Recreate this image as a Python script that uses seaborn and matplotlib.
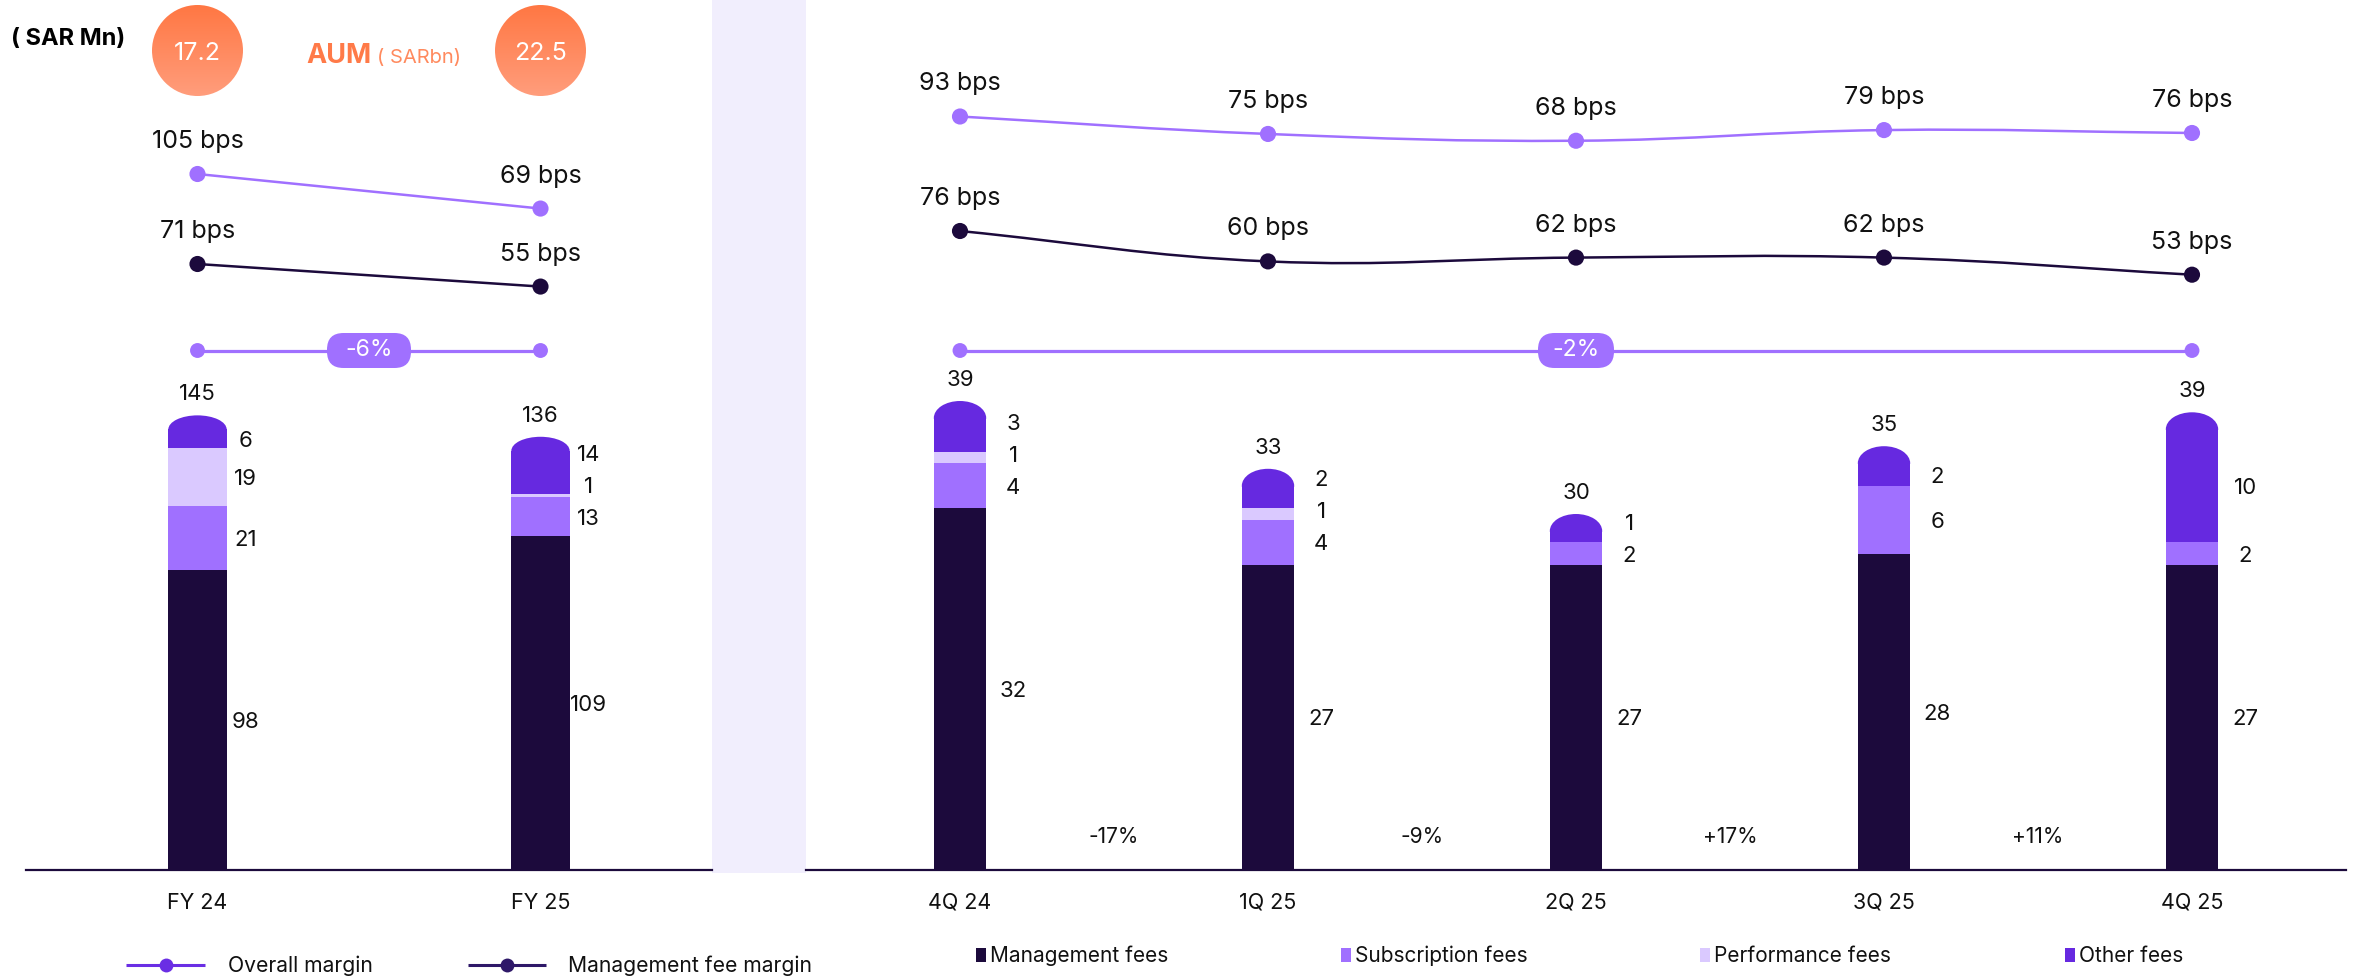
import numpy as np
import pandas as pd
import matplotlib
matplotlib.use("Agg")
import matplotlib.pyplot as plt
import seaborn as sns
from matplotlib import patches, transforms
from matplotlib.path import Path
from matplotlib.colors import LinearSegmentedColormap
from matplotlib import font_manager as fm
from matplotlib.ft2font import FT2Font

# ---------------- data ----------------
annual_periods = ["FY 24", "FY 25"]
annual_mgmt_fees = [98, 109]
annual_sub_fees = [21, 13]
annual_perf_fees = [19, 1]
annual_other_fees = [6, 14]
annual_totals = [145, 136]
annual_overall_bps = [105, 69]
annual_mgmt_bps = [71, 55]
annual_aum_bn = [17.2, 22.5]
annual_margin_change = "-6%"

quarter_periods = ["4Q 24", "1Q 25", "2Q 25", "3Q 25", "4Q 25"]
quarter_mgmt_fees = [32, 27, 27, 28, 27]
quarter_sub_fees = [4, 4, 2, 6, 2]
quarter_perf_fees = [1, 1, 0, 0, 0]
quarter_other_fees = [3, 2, 1, 2, 10]
quarter_totals = [39, 33, 30, 35, 39]
quarter_overall_bps = [93, 75, 68, 79, 76]
quarter_mgmt_bps = [76, 60, 62, 62, 53]
quarter_margin_change = "-2%"
quarter_qoq_changes = ["-17%", "-9%", "+17%", "+11%"]

fee_types = ["Management fees", "Subscription fees", "Performance fees", "Other fees"]
margin_series = ["Overall margin", "Management fee margin"]

# ---------------- style ----------------
C_MGMT = "#1C0A3C"
C_SUB = "#A070FF"
C_PERF = "#DAC9FF"
C_OTHER = "#6629E0"
C_BAND = "#F1EEFD"
C_ORANGE = "#FF7A48"
C_TXT = "#111111"
FEE_COLORS = [C_MGMT, C_SUB, C_PERF, C_OTHER]

W, H, DPI = 2356, 977, 100
BAR_W = 0.17
BASE_Y = 870

sns.set_theme(style="white")
plt.rcParams["font.family"] = ["Inter", "DejaVu Sans"]


def pick_currency():
    fams = ["Inter", "DejaVu Sans", "Noto Sans", "Liberation Sans", "Roboto", "Open Sans", "Lato"]
    for ch in ["\u20C1", "\uFDFC"]:
        for fam in fams:
            try:
                path = fm.findfont(fm.FontProperties(family=fam), fallback_to_default=False)
                if FT2Font(path).get_char_index(ord(ch)):
                    return ch, fam
            except Exception:
                pass
    return "SAR", "Inter"


CUR, CUR_FAM = pick_currency()

fig = plt.figure(figsize=(W / DPI, H / DPI), dpi=DPI)
fig.patch.set_facecolor("white")


def pxax(x0, y0, x1, y1, z=1):
    ax = fig.add_axes([x0 / W, 1 - y1 / H, (x1 - x0) / W, (y1 - y0) / H])
    ax.set_zorder(z)
    ax.patch.set_visible(False)
    return ax


# shaded separator band
fig.add_artist(patches.Rectangle((712 / W, 1 - 873 / H), (806 - 712) / W, 873 / H,
                                 transform=fig.transFigure, color=C_BAND, lw=0, zorder=0))


def smooth_path(ax, xs, ys, tension=0.4):
    pts = ax.transData.transform(np.column_stack([xs, ys]).astype(float))
    n = len(pts)
    cps = []
    for i in range(n):
        p1 = pts[i]
        p0 = pts[i - 1] if i > 0 else pts[i]
        p2 = pts[i + 1] if i < n - 1 else pts[i]
        d01 = np.hypot(*(p1 - p0))
        d12 = np.hypot(*(p2 - p1))
        tot = d01 + d12
        s01 = d01 / tot if tot else 0
        s12 = d12 / tot if tot else 0
        cps.append((p1 - tension * s01 * (p2 - p0), p1 + tension * s12 * (p2 - p0)))
    verts = [pts[0]]
    codes = [Path.MOVETO]
    for i in range(n - 1):
        verts += [cps[i][1], cps[i + 1][0], pts[i + 1]]
        codes += [Path.CURVE4] * 3
    verts = ax.transData.inverted().transform(np.array(verts))
    return Path(verts, codes)


def draw_panel(x0, x1, periods, mgmt, sub, perf, other, totals, ov_bps, mg_bps,
               ppu, cap_px, seg_dx, ov_anchor, mg_anchor, change_text, pill_w, changes=None):
    n = len(periods)
    axb = pxax(x0, 0, x1, BASE_Y, z=1)
    df = pd.DataFrame({"period": periods, "mgmt": mgmt, "sub": sub, "perf": perf, "other": other})
    df["c_sub"] = df["mgmt"] + df["sub"]
    df["c_perf"] = df["c_sub"] + df["perf"]
    df["c_other"] = df["c_perf"] + df["other"]
    for col, color in [("c_other", C_OTHER), ("c_perf", C_PERF), ("c_sub", C_SUB), ("mgmt", C_MGMT)]:
        sns.barplot(data=df, x="period", y=col, order=periods, color=color, width=BAR_W,
                    saturation=1, errorbar=None, linewidth=0, ax=axb)
    axb.set_xlim(-0.5, n - 0.5)
    axb.set_ylim(0, BASE_Y / ppu)
    cap_u = cap_px / ppu
    # rounded caps on top of the stacks
    for i in range(n):
        top = df["c_other"].iloc[i]
        ell = patches.Ellipse((i, top), BAR_W, 2 * cap_u, color=C_OTHER, lw=0, zorder=3)
        axb.add_patch(ell)
        clip = patches.Rectangle((i - BAR_W, top - 1.0 / ppu), 2 * BAR_W, 2 * cap_u, transform=axb.transData)
        ell.set_clip_path(clip)
        axb.annotate(str(totals[i]), xy=(i, top), xytext=(0, cap_px + 15), textcoords="offset pixels",
                     ha="center", va="baseline", fontsize=16, color=C_TXT)
        # segment labels
        b = 0
        prev = None
        for val in [mgmt[i], sub[i], perf[i], other[i]]:
            if val > 0:
                y = b + val / 2
                if prev is not None and (y - prev) * ppu < 32:
                    y = prev + 32 / ppu
                prev = y
                axb.annotate(str(val), xy=(i + BAR_W / 2, y), xytext=(seg_dx, -8), textcoords="offset pixels",
                             ha="center", va="baseline", fontsize=16, color=C_TXT)
            b += val
    if changes:
        for i, t in enumerate(changes):
            axb.annotate(t, xy=(i + 0.5, 0), xytext=(0, 27), textcoords="offset pixels",
                         ha="center", va="baseline", fontsize=15, color=C_TXT)
    for s in ["top", "left", "right"]:
        axb.spines[s].set_visible(False)
    axb.spines["bottom"].set_color(C_MGMT)
    axb.spines["bottom"].set_linewidth(1.6)
    axb.set_xlabel("")
    axb.set_ylabel("")
    axb.set_yticks([])
    axb.set_xticks(range(n))
    axb.set_xticklabels(periods, fontsize=15.5, color=C_TXT)
    axb.tick_params(axis="x", length=0, pad=16.5)

    # margin lines
    for vals, (vref, yref, s), color in [(ov_bps, ov_anchor, C_SUB), (mg_bps, mg_anchor, C_MGMT)]:
        axl = pxax(x0, 0, x1, BASE_Y, z=2)
        axl.set_xlim(-0.5, n - 0.5)
        axl.set_ylim(vref - (BASE_Y - yref) / s, vref + yref / s)
        axl.axis("off")
        path = smooth_path(axl, list(range(n)), vals)
        axl.add_patch(patches.PathPatch(path, fill=False, ec=color, lw=1.8, zorder=2))
        sns.scatterplot(x=list(range(n)), y=vals, s=135, color=color, edgecolor="none",
                        legend=False, zorder=3, ax=axl)
        for i, v in enumerate(vals):
            axl.annotate(f"{v} bps", xy=(i, v), xytext=(0, 26), textcoords="offset pixels",
                         ha="center", va="baseline", fontsize=18, color=C_TXT)
        axl.set_xlim(-0.5, n - 0.5)
        axl.set_ylim(vref - (BASE_Y - yref) / s, vref + yref / s)

    # growth connector with pill
    axg = pxax(x0, 330, x1, 371, z=2)
    sns.lineplot(x=[0, n - 1], y=[0, 0], color=C_SUB, lw=2.3, ax=axg, zorder=2)
    sns.scatterplot(x=[0, n - 1], y=[0, 0], s=115, color=C_SUB, edgecolor="none", legend=False, zorder=3, ax=axg)
    axg.set_xlim(-0.5, n - 0.5)
    axg.set_ylim(-1, 1)
    axg.axis("off")
    cx, cy = axg.transData.transform(((n - 1) / 2, 0))
    ph = 35
    pill = patches.FancyBboxPatch((cx - pill_w / 2, cy - ph / 2), pill_w, ph,
                                  boxstyle=f"round,pad=0,rounding_size={ph / 2 - 1}",
                                  transform=transforms.IdentityTransform(), fc=C_SUB, ec="none", zorder=4)
    pill.set_clip_on(False)
    axg.add_artist(pill)
    axg.text((n - 1) / 2, 0, change_text, ha="center", va="center", fontsize=16.5, color="white", zorder=5)
    return axb


axL = draw_panel(26, 712, annual_periods, annual_mgmt_fees, annual_sub_fees, annual_perf_fees,
                 annual_other_fees, annual_totals, annual_overall_bps, annual_mgmt_bps,
                 ppu=3.06, cap_px=14, seg_dx=19, ov_anchor=(105, 174, 0.96), mg_anchor=(71, 264, 1.41),
                 change_text=annual_margin_change, pill_w=84)
axR = draw_panel(806, 2346, quarter_periods, quarter_mgmt_fees, quarter_sub_fees, quarter_perf_fees,
                 quarter_other_fees, quarter_totals, quarter_overall_bps, quarter_mgmt_bps,
                 ppu=11.3, cap_px=17, seg_dx=27, ov_anchor=(93, 116.5, 0.97), mg_anchor=(76, 231, 1.9),
                 change_text=quarter_margin_change, pill_w=76, changes=quarter_qoq_changes)

# ---------------- pixel overlay for header & legends ----------------
axp = fig.add_axes([0, 0, 1, 1])
axp.set_zorder(3)
axp.patch.set_visible(False)
axp.axis("off")

cmap = LinearSegmentedColormap.from_list("aum", ["#FF7743", "#FF9D7C"])
grad = np.linspace(0, 1, 256)[:, None]
for i, aum in enumerate(annual_aum_bn):
    dx, dy = axL.transData.transform((i, 0))
    cx, cy, r = dx, 50.5, 45.5
    im = axp.imshow(grad, extent=(cx - r, cx + r, cy + r, cy - r), cmap=cmap, aspect="auto", zorder=1)
    circ = patches.Circle((cx, cy), r, transform=axp.transData)
    im.set_clip_path(circ)
    axp.text(cx, cy + 9, f"{aum}", ha="center", va="baseline", fontsize=18, color="white", zorder=2)

axp.text(306, 63, "AUM", ha="left", va="baseline", fontsize=19.5, fontweight="bold", color=C_ORANGE)
axp.text(377, 63, f"( {CUR}bn)", ha="left", va="baseline", fontsize=14.5, color="#FF8A5E",
         family=["Inter", CUR_FAM])
axp.text(11, 45, f"( {CUR} Mn)", ha="left", va="baseline", fontsize=17, fontweight="bold", color="black",
         family=["Inter", CUR_FAM])

# left legend (margin lines)
leg_line_cols = ["#6A2EE4", "#2E1868"]
for (lx0, lx1, tx), name, col in zip([(126, 205, 228), (468, 546, 568)], margin_series, leg_line_cols):
    axp.plot([lx0, lx1], [965, 965], color=col, lw=2.2, solid_capstyle="butt", zorder=2)
    axp.plot([(lx0 + lx1) / 2], [965], marker="o", ms=10, color=col, mec="none", zorder=3)
    axp.text(tx, 965 + 7.5, name, ha="left", va="baseline", fontsize=15.2, color=C_TXT)

# right legend (fee types)
for sx, name, col in zip([976, 1341, 1700, 2065], fee_types, FEE_COLORS):
    axp.add_patch(patches.Rectangle((sx, 948), 10, 14, color=col, lw=0))
    axp.text(sx + 14, 955 + 7.5, name, ha="left", va="baseline", fontsize=15, color=C_TXT)

axp.set_xlim(0, W)
axp.set_ylim(H, 0)

fig.savefig("out.png", dpi=DPI, facecolor="white")
